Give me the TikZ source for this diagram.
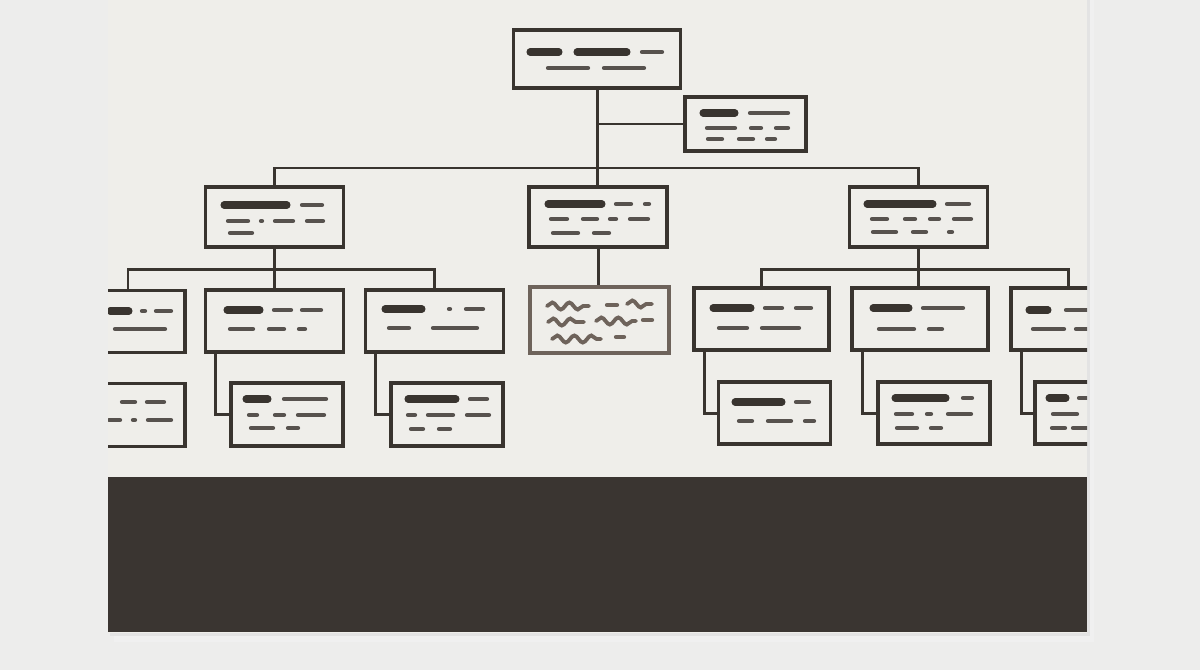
\documentclass[tikz,border=0pt]{standalone}
\usepackage{tikz}
\usetikzlibrary{calc,decorations.pathmorphing}
\definecolor{wallgrey}{HTML}{EDEDEC}
\definecolor{paper}{HTML}{EFEEEA}
\definecolor{ink}{HTML}{39342F}
\definecolor{washbrown}{HTML}{3A3531}
\definecolor{sepia}{HTML}{6E635B}

\tikzset{
  card/.style={draw=ink, line width=1.75pt, fill=paper, inner sep=0pt,
    minimum width=2.76cm, minimum height=1.24cm},
  subcard/.style={card, minimum width=2.24cm, minimum height=1.26cm},
  link/.style={draw=ink, line width=1.7pt},
  bar/.style={ink, line width=4pt, line cap=round},
  stroke/.style={ink!85, line width=2.4pt, line cap=round},
  wave/.style={sepia, line width=2.2pt, line cap=round, decorate,
    decoration={snake, segment length=0.34cm, amplitude=0.07cm}},
}

\begin{document}
\begin{tikzpicture}[x=0.02cm, y=-0.02cm]
    \fill[wallgrey] (0,0) rectangle (1200,670);
    \useasboundingbox (0,0) rectangle (1200,670);
    % sheet and its shadow
    \fill[black!6] (114,0) rectangle (1094,642);
    \fill[black!11] (110,0) rectangle (1090,636);
    \fill[paper] (108,0) rectangle (1087,633);

    \begin{scope}
    \clip (108,0) rectangle (1087,633);
    % ink wash along the bottom
    \fill[washbrown] (108,477) rectangle (1087,632);

    % boxes
    \node[card, minimum width=3.34cm, minimum height=1.16cm] (ceo) at (597,59) {};
    \node[card, minimum width=2.42cm, minimum height=1.08cm] (asst) at (745.5,124) {};
    \node[card, minimum height=1.2cm] (left) at (274.5,217) {};
    \node[card, minimum height=1.2cm] (mid) at (598,217) {};
    \node[card, minimum height=1.2cm] (right) at (918.5,217) {};

    \node[card] (l1) at (116,321.5) {};
    \node[card] (l2) at (274.5,321) {};
    \node[card] (l3) at (434.5,321) {};
    \node[card, draw=sepia, minimum width=2.78cm, minimum height=1.32cm] (m1) at (599.5,320) {};
    \node[card, minimum width=2.7cm] (r1) at (761.5,319) {};
    \node[card, minimum width=2.72cm] (r2) at (920,319) {};
    \node[card] (r3) at (1080,319) {};

    \node[subcard] (l1a) at (129,415) {};
    \node[subcard] (l2a) at (287,414.5) {};
    \node[subcard] (l3a) at (447,414.5) {};
    \node[subcard, minimum height=1.24cm] (r1a) at (774.5,413) {};
    \node[subcard, minimum height=1.24cm] (r2a) at (934,413) {};
    \node[subcard, minimum height=1.24cm] (r3a) at (1091,413) {};

    % connectors
    \coordinate (bus) at (0,168);
    \coordinate (lbus) at (0,269);
    \coordinate (l1top) at ([xshift=0.24cm]l1.north);
    \coordinate (r3top) at ([xshift=-0.24cm]r3.north);
    \draw[link] (ceo.south) -- (ceo.south |- mid.north);
    \draw[link] (asst.west) -- (asst.west -| ceo.south);
    \draw[link] (left.north) -- (left.north |- bus) -- (right.north |- bus) -- (right.north);
    \draw[link] (left.south) -- (l2.north);
    \draw[link] (l1top) -- (l1top |- lbus) -- (l3.north |- lbus) -- (l3.north);
    \draw[link] (mid.south) -- (mid.south |- m1.north);
    \draw[link] (right.south) -- (right.south |- r2.north);
    \draw[link] (r1.north) -- (r1.north |- lbus) -- (r3top |- lbus) -- (r3top);
    \foreach \up/\down in {l1/l1a, l2/l2a, l3/l3a, r1/r1a, r2/r2a, r3/r3a}
      \draw[link] ([xshift=0.24cm]\up.south west) |- (\down.west);

    % placeholder text marks
    \foreach \a/\b/\y in {528/561/52, 575/629/52, 701/737/113, 222/289/205,
        546/604/204, 865/935/204, 108/131/311, 225/262/310, 383/424/309,
        711/753/308, 871/911/308, 1027/1050/310, 244/270/399, 406/458/399,
        733/784/402, 893/948/398, 1047/1068/398}
      \draw[bar] (\a+2,\y) -- (\b-2,\y);
    \foreach \a/\b/\y in {641/663/52, 547/589/68, 603/645/68,
        749/789/113, 706/736/128, 750/762/128, 775/789/128, 707/723/139, 738/754/139, 766/776/139,
        301/323/205, 227/249/221, 260/263/221, 274/294/221, 306/324/221, 229/253/233,
        615/632/204, 644/650/204, 550/568/219, 582/598/219, 609/617/219, 629/649/219, 552/579/233, 593/610/233,
        946/970/204, 871/888/219, 904/916/219, 929/940/219, 953/972/219, 872/897/232, 912/927/232, 948/953/232,
        141/146/311, 155/172/311, 114/166/329,
        273/292/310, 301/322/310, 229/254/329, 268/285/329, 298/306/329,
        448/451/309, 465/484/309, 388/410/328, 432/478/328,
        764/783/308, 795/812/308, 718/748/328, 761/800/328,
        922/964/308, 878/915/329, 928/943/329,
        1065/1090/310, 1032/1065/329, 1075/1090/329,
        121/136/402, 146/165/402, 108/121/420, 132/136/420, 147/172/420,
        283/327/399, 248/258/415, 274/285/415, 297/325/415, 250/274/428, 287/299/428,
        469/488/399, 407/416/415, 427/454/415, 466/490/415, 410/424/429, 438/451/429,
        795/810/402, 738/753/421, 767/792/421, 804/815/421,
        962/973/398, 895/913/414, 926/932/414, 947/972/414, 896/918/428, 930/942/428,
        1078/1090/398, 1052/1078/414, 1051/1066/428, 1072/1090/428}
      \draw[stroke] (\a+1,\y) -- (\b-1,\y);

    % scribbled box
    \draw[wave] (547,306) -- (589,306);
    \draw[wave] (627,304) -- (652,304);
    \draw[wave] (548,322) -- (584,322);
    \draw[wave] (596,321) -- (636,321);
    \draw[wave] (552,339) -- (601,339);
    \foreach \a/\b/\y in {607/617/305, 643/652/320, 616/624/337}
      \draw[stroke, sepia] (\a,\y) -- (\b,\y);
    \end{scope}
\end{tikzpicture}
\end{document}
